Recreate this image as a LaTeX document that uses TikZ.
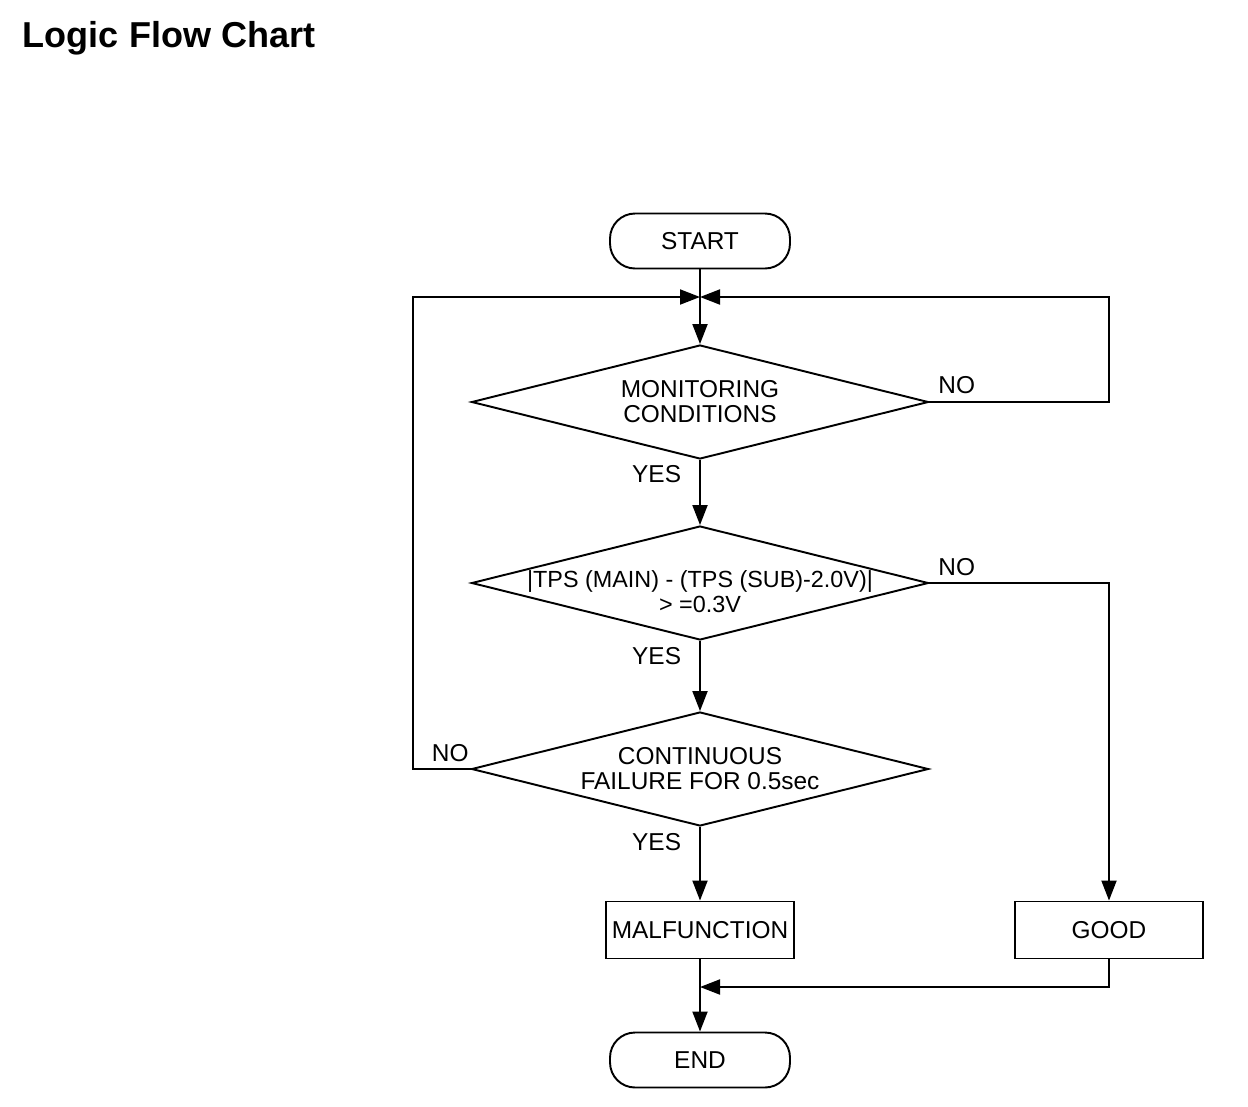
\documentclass[tikz,border=0pt]{standalone}
\usepackage{fontspec}
\setmainfont{Liberation Sans}
\usetikzlibrary{shapes.geometric,arrows.meta}
\tikzset{
  base/.style={line width=1.1pt, font=\fontsize{13.9pt}{14.3pt}\selectfont},
  term/.style={draw, rectangle, rounded corners=0.5cm, minimum width=3.6cm, minimum height=1.1cm, inner sep=0pt},
  proc/.style={draw, rectangle, minimum width=3.76cm, minimum height=1.14cm, inner sep=0pt},
  dec/.style={draw, diamond, minimum width=9.14cm, minimum height=2.28cm, inner sep=0pt},
  lbl/.style={inner sep=0pt},
}
\begin{document}
\begin{tikzpicture}[x=0.02cm, y=-0.02cm, base, >={Triangle[length=0.4cm,width=0.3cm]}]
\useasboundingbox (0,0) rectangle (1248,1106);
\node[anchor=base west, inner sep=0pt, font=\fontsize{20.5pt}{24pt}\selectfont\bfseries] (title) at (22,47) {Logic Flow Chart};

\node[term] (start) at (700,241) {START};
\node[dec, label={[align=center]center:{MONITORING\\CONDITIONS}}] (mon) at (700,402) {};
\node[dec, label={[align=center,yshift=-0.18cm,font=\fontsize{13.3pt}{14.3pt}\selectfont]center:{|TPS (MAIN) - (TPS (SUB)-2.0V)|\\> =0.3V}}] (tps) at (700,583) {};
\node[dec, label={[align=center]center:{CONTINUOUS\\FAILURE FOR 0.5sec}}] (cont) at (700,769) {};
\node[proc] (mal) at (700,930) {MALFUNCTION};
\node[proc] (good) at (1109,930) {GOOD};
\node[term] (end) at (700,1060) {END};

\coordinate (join) at (700,297);
\coordinate (merge) at (700,987);

\draw[->] (start) -- (mon);
\draw[->] (mon) -- node[lbl,pos=0.22,left=0.36cm] {YES} (tps);
\draw[->] (tps) -- node[lbl,pos=0.22,left=0.36cm] {YES} (cont);
\draw[->] (cont) -- node[lbl,pos=0.21,left=0.36cm] {YES} (mal);
\draw[->] (mal) -- (end);

\draw[->] (mon.east) -- node[lbl,pos=0,anchor=south west,xshift=0.16cm,yshift=0.14cm] {NO} ++(180,0) |- (join);
\draw[->] (tps.east) -| node[lbl,pos=0,anchor=south west,xshift=0.16cm,yshift=0.12cm] {NO} (good.north);
\draw[->] (cont.west) -- node[lbl,pos=0,anchor=south east,xshift=-0.02cm,yshift=0.12cm] {NO} ++(-58,0) |- (join);
\draw[->] (good.south) |- (merge);
\end{tikzpicture}
\end{document}
